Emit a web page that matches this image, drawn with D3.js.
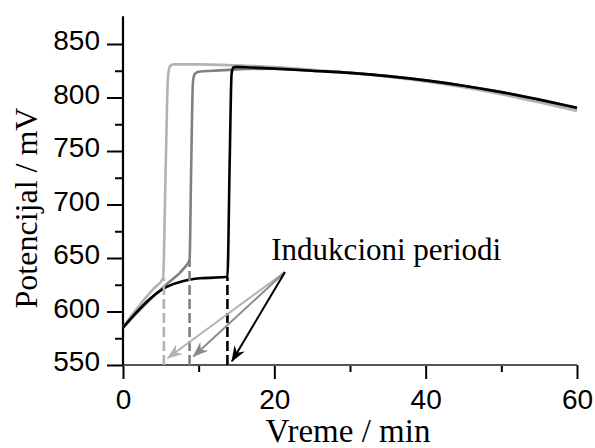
<!DOCTYPE html>
<html><head><meta charset="utf-8">
<script src="https://cdn.jsdelivr.net/npm/d3@7"></script>
<style>body{margin:0;background:#fff}svg{display:block}</style>
</head><body>
<svg id="c" width="595" height="448"></svg>
<script>
// ---- data ----
const xMajorTicks = [0, 20, 40, 60];
const xMinorTicks = [10, 30, 50];
const yMajorTicks = [550, 600, 650, 700, 750, 800, 850];
const yMinorTicks = [575, 625, 675, 725, 775, 825];

const lightT = [0, 1, 2, 3, 4, 5.3, 5.6, 5.95, 6.2, 6.6, 10, 15, 20, 25, 30, 35, 40, 45, 50, 55, 60];
const lightV = [585, 595, 604, 613, 621, 631, 720, 820, 829, 831, 831, 830, 828.5, 826, 823, 819.5, 815, 809.5, 803, 795.5, 787.5];

const grayT = [0, 2, 4, 6, 8, 8.8, 9.0, 9.25, 9.5, 10, 12, 15, 20, 25, 30, 35, 40, 45, 50, 55, 60];
const grayV = [585, 600, 614, 627, 640, 648.5, 730, 815, 822, 824, 825, 826.3, 827, 825, 823, 820, 816, 811, 805, 798, 790];

const blackT = [0, 1.36, 3.57, 5.78, 8, 10.2, 13.8, 14.1, 14.35, 14.6, 15, 17, 20, 25, 30, 35, 40, 45, 50, 55, 60];
const blackV = [585, 596, 612, 623, 628.5, 631, 632.4, 740, 822, 828.3, 828.6, 828, 827, 825, 823, 820, 816, 811, 805, 798, 790.5];

// induction periods (dashed markers): time and potential at jump start
const inductionT = [5.4, 8.8, 13.8];
const inductionV = [631, 648.5, 632.4];

// annotation arrows
const arrowFrom = [21.4, 636.8];
const arrowToT = [5.9, 9.3, 14.4];
const arrowToV = [556.5, 558, 553.5];
const annotation = "Indukcioni periodi";

const colors = ["#b3b3b3", "#808080", "#000000"];
const arrowColors = ["#b3b3b3", "#8a8a8a", "#000000"];

// ---- chart ----
const svg = d3.select("#c");
const x = d3.scaleLinear().domain([0, 60]).range([123, 577]);
const y = d3.scaleLinear().domain([550, 850]).range([365, 44]);

const tickFont = "'Liberation Sans', Arial, sans-serif";
const serif = "'Liberation Serif', 'Times New Roman', serif";

// axes
const gx = svg.append("g").attr("transform", `translate(0,${y(550)})`);
gx.call(d3.axisBottom(x).tickValues(xMajorTicks).tickSize(14).tickPadding(10).tickFormat(d3.format("d")));
const gxm = svg.append("g").attr("transform", `translate(0,${y(550)})`);
gxm.call(d3.axisBottom(x).tickValues(xMinorTicks).tickSize(7).tickFormat(""));

const gy = svg.append("g").attr("transform", `translate(${x(0)},0)`);
gy.call(d3.axisLeft(y).tickValues(yMajorTicks).tickSize(16).tickPadding(7).tickFormat(d3.format("d")));
const gym = svg.append("g").attr("transform", `translate(${x(0)},0)`);
gym.call(d3.axisLeft(y).tickValues(yMinorTicks).tickSize(8).tickFormat(""));

[gx, gxm, gy, gym].forEach(g => {
  g.select(".domain").remove();
  g.selectAll(".tick line").attr("stroke", "#000").attr("stroke-width", 2);
  g.selectAll(".tick text").attr("font-family", tickFont).attr("font-size", 28).attr("fill", "#000");
});
gy.selectAll(".tick text").attr("dy", "0.2em");
// axis lines
svg.append("line").attr("x1", x(0)).attr("x2", x(60)).attr("y1", y(550)).attr("y2", y(550))
  .attr("stroke", "#555").attr("stroke-width", 1.8);
svg.append("line").attr("x1", x(0)).attr("x2", x(0)).attr("y1", y(550)).attr("y2", y(876))
  .attr("stroke", "#000").attr("stroke-width", 2.2);

// series
const line = d3.line().x(d => x(d[0])).y(d => y(d[1])).curve(d3.curveMonotoneX);
const series = [[lightT, lightV], [grayT, grayV], [blackT, blackV]];
series.forEach(([T, V], i) => {
  const pts = T.map((t, k) => [t, V[k]]);
  svg.append("path").datum(pts).attr("d", line).attr("fill", "none")
    .attr("stroke", colors[i]).attr("stroke-width", 2.6).attr("stroke-linejoin", "round");
});

// dashed induction markers
inductionT.forEach((t, i) => {
  svg.append("line").attr("x1", x(t)).attr("x2", x(t)).attr("y1", y(550)).attr("y2", y(inductionV[i]))
    .attr("stroke", colors[i]).attr("stroke-width", 2.6).attr("stroke-dasharray", "10,4");
});

// arrows
const defs = svg.append("defs");
arrowColors.forEach((c, i) => {
  defs.append("marker").attr("id", "ah" + i).attr("viewBox", "0 0 16 12")
    .attr("refX", 15).attr("refY", 6).attr("markerWidth", 16).attr("markerHeight", 12)
    .attr("markerUnits", "userSpaceOnUse").attr("orient", "auto")
    .append("path").attr("d", "M0,0 L16,6 L0,12 L5,6 Z").attr("fill", c);
});
arrowToT.forEach((t, i) => {
  svg.append("line").attr("x1", x(arrowFrom[0])).attr("y1", y(arrowFrom[1]))
    .attr("x2", x(t)).attr("y2", y(arrowToV[i]))
    .attr("stroke", arrowColors[i]).attr("stroke-width", 2)
    .attr("marker-end", `url(#ah${i})`);
});

svg.append("text").attr("x", x(19.6)).attr("y", y(648)).attr("font-family", serif)
  .attr("font-size", 31).attr("fill", "#000").text(annotation);

// axis titles
svg.append("text").attr("x", 348).attr("y", 442).attr("text-anchor", "middle")
  .attr("font-family", serif).attr("font-size", 33).attr("fill", "#000").text("Vreme / min");
svg.append("text").attr("transform", "translate(37,208) rotate(-90)").attr("text-anchor", "middle")
  .attr("font-family", serif).attr("font-size", 32).attr("fill", "#000").text("Potencijal / mV");
</script>
</body></html>
